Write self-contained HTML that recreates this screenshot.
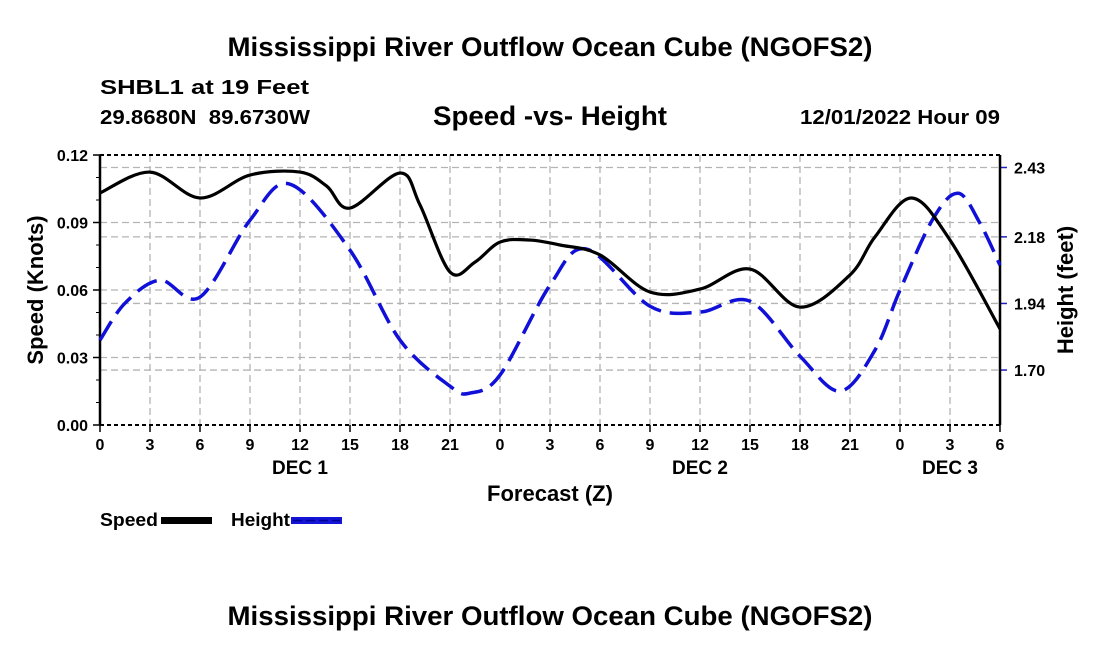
<!DOCTYPE html>
<html><head><meta charset="utf-8"><style>
html,body{margin:0;padding:0;background:#fff;}
svg{display:block;font-family:"Liberation Sans",Arial,sans-serif;font-weight:bold;}
</style></head><body>
<svg id="chart" width="1100" height="650" viewBox="0 0 1100 650" xmlns="http://www.w3.org/2000/svg">
<text x="550" y="56" font-size="27" text-anchor="middle" textLength="645" lengthAdjust="spacingAndGlyphs">Mississippi River Outflow Ocean Cube (NGOFS2)</text>
<text x="100" y="94" font-size="20" textLength="209" lengthAdjust="spacingAndGlyphs">SHBL1 at 19 Feet</text>
<text x="100" y="124" font-size="20" textLength="210" lengthAdjust="spacingAndGlyphs" xml:space="preserve">29.8680N  89.6730W</text>
<text x="550" y="125" font-size="27" text-anchor="middle" textLength="234" lengthAdjust="spacingAndGlyphs">Speed -vs- Height</text>
<text x="1000" y="124" font-size="20" text-anchor="end" textLength="200" lengthAdjust="spacingAndGlyphs">12/01/2022 Hour 09</text>
<g id="grid"></g>
<g id="axes"></g>
<g id="series"></g>
<text transform="translate(43,290) rotate(-90)" font-size="22" text-anchor="middle">Speed (Knots)</text>
<text transform="translate(1073,290) rotate(-90)" font-size="22" text-anchor="middle">Height (feet)</text>
<text x="550" y="501" font-size="22" text-anchor="middle">Forecast (Z)</text>
<g>
<text x="100" y="526" font-size="18" textLength="58" lengthAdjust="spacingAndGlyphs">Speed</text>
<rect x="161" y="517" width="51" height="7" fill="#000"/>
<text x="231" y="526" font-size="18" textLength="59" lengthAdjust="spacingAndGlyphs">Height</text>
<rect x="291" y="517" width="51" height="7" fill="#1414d8"/>
<line x1="293" y1="520.5" x2="340" y2="520.5" stroke="#000090" stroke-width="1.5" stroke-dasharray="9,4"/>
</g>
<text x="550" y="625" font-size="27" text-anchor="middle" textLength="645" lengthAdjust="spacingAndGlyphs">Mississippi River Outflow Ocean Cube (NGOFS2)</text>
</svg>
<script>
const hourTickLabels = ["0","3","6","9","12","15","18","21","0","3","6","9","12","15","18","21","0","3","6"];
const dayLabels = ["DEC 1","DEC 2","DEC 3"];
const dayLabelHours = [12,36,51];
const speedTicks = [0,0.03,0.06,0.09,0.12];
const heightTicks = [1.70,1.94,2.18,2.43];
const speedHours = [0,3,6,9,12,13.6,15,18,19.2,21,22.5,24,25.8,27.6,30,33,36,39,42,45,46.5,48.7,51,54];
const speedValues = [0.1031,0.1124,0.1009,0.1111,0.1124,0.1062,0.0964,0.1120,0.0978,0.0680,0.0724,0.0813,0.0822,0.0800,0.0756,0.0591,0.0604,0.0693,0.0524,0.0667,0.0836,0.1009,0.0822,0.0427];
const heightHours = [0,1.5,3.6,6,9,11.4,15,18,21,22.2,24,27,29.2,33,36,39,42,44.4,46.5,48,50,51.5,52.8,54];
const heightValues = [1.808,1.941,2.024,1.963,2.240,2.370,2.132,1.808,1.642,1.617,1.682,2.006,2.136,1.930,1.909,1.948,1.750,1.624,1.772,1.988,2.247,2.337,2.229,2.078];

const X0=100,X1=1000,Y0=425,Y1=155;
const xs=h=>X0+h/54*(X1-X0);
const ySpeed=v=>Y0-v/0.12*(Y0-Y1);
const HMIN=1.502,HMAX=2.475;
const yHeight=h=>Y0-(h-HMIN)/(HMAX-HMIN)*(Y0-Y1);
const NS="http://www.w3.org/2000/svg";
function mk(tag,attrs,parent,txt){const e=document.createElementNS(NS,tag);for(const k in attrs)e.setAttribute(k,attrs[k]);if(txt!==undefined)e.textContent=txt;parent.appendChild(e);return e;}
const grid=document.getElementById('grid'),axes=document.getElementById('axes'),series=document.getElementById('series');
hourTickLabels.forEach((lab,i)=>{const x=xs(i*3);
 if(i>0&&i<hourTickLabels.length-1){const g=mk('line',{x1:x,y1:Y1,x2:x,y2:Y0,stroke:'#b4b4b4','stroke-width':1.3,'stroke-dasharray':'7,4'},grid);
 
 }
 const t=mk('line',{x1:x,y1:Y0,x2:x,y2:Y0+7,stroke:'#000','stroke-width':1.5},axes);
 
 
 const l=mk('text',{x:x,y:450,'font-size':16,'text-anchor':'middle'},axes,lab);
 
 
});
dayLabels.forEach((d,i)=>{const l=mk('text',{x:xs(dayLabelHours[i]),y:474,'font-size':19,'text-anchor':'middle'},axes,d);
 
 });
speedTicks.forEach(v=>{const y=ySpeed(v);
 if(v>0&&v<0.12){const g=mk('line',{x1:X0,y1:y,x2:X1,y2:y,stroke:'#b4b4b4','stroke-width':1.3,'stroke-dasharray':'7,4'},grid);
 
 }
 const t=mk('line',{x1:X0-7,y1:y,x2:X0,y2:y,stroke:'#000','stroke-width':1.5},axes);
 
 
 const l=mk('text',{x:X0-12,y:y+6,'font-size':16,'text-anchor':'end'},axes,v.toFixed(2));
 
 
});
for(let v=0.01;v<0.12;v+=0.01){const y=ySpeed(v);const t=mk('line',{x1:X0-4,y1:y,x2:X0,y2:y,stroke:'#000','stroke-width':1},axes);
 
 }
heightTicks.forEach(h=>{const y=yHeight(h);
 const g=mk('line',{x1:X0,y1:y,x2:X1,y2:y,stroke:'#b4b4b4','stroke-width':1.3,'stroke-dasharray':'7,4'},grid);
 
 
 const t=mk('line',{x1:X1,y1:y,x2:X1+7,y2:y,stroke:'#2020c0','stroke-width':1.5},axes);
 
 
 const l=mk('text',{x:X1+14,y:y+6,'font-size':16},axes,h.toFixed(2));
 
 
});
[[X0,Y1,X0,Y0],[X1,Y1,X1,Y0]].forEach(a=>{const l=mk('line',{x1:a[0],y1:a[1],x2:a[2],y2:a[3],stroke:'#000','stroke-width':2.5},axes);
 
 });
[Y1,Y0].forEach(y=>{const l=mk('line',{x1:X0,y1:y,x2:X1,y2:y,stroke:'#000','stroke-width':2,'stroke-dasharray':'4,3'},axes);
 
 });
function smooth(pts){let d=`M${pts[0][0]},${pts[0][1]}`;
 for(let i=0;i<pts.length-1;i++){const p0=pts[Math.max(0,i-1)],p1=pts[i],p2=pts[i+1],p3=pts[Math.min(pts.length-1,i+2)];
 const c1=[p1[0]+(p2[0]-p0[0])/6,p1[1]+(p2[1]-p0[1])/6],c2=[p2[0]-(p3[0]-p1[0])/6,p2[1]-(p3[1]-p1[1])/6];
 d+=` C${c1[0]},${c1[1]} ${c2[0]},${c2[1]} ${p2[0]},${p2[1]}`;}return d;}
const hp=mk('path',{d:smooth(heightHours.map((h,i)=>[xs(h),yHeight(heightValues[i])])),fill:'none',stroke:'#1010d8','stroke-width':3.5,'stroke-dasharray':'22,9'},series);


const sp=mk('path',{d:smooth(speedHours.map((h,i)=>[xs(h),ySpeed(speedValues[i])])),fill:'none',stroke:'#000','stroke-width':3.2},series);


</script>
</body></html>
